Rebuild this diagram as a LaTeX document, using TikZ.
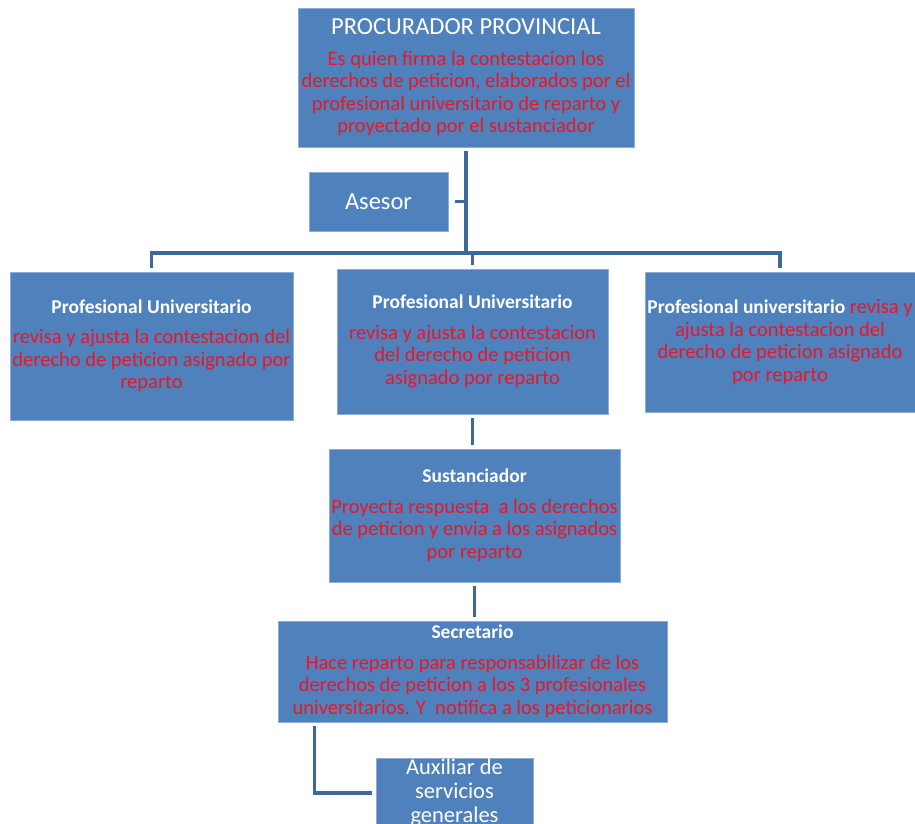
\documentclass[tikz,border=0pt]{standalone}
\usepackage{fontspec}
\setmainfont{Carlito}
\usepackage{xcolor}
\usetikzlibrary{positioning}

\definecolor{boxblue}{RGB}{79,129,189}
\definecolor{linkblue}{RGB}{62,104,154}
\definecolor{txtred}{RGB}{234,22,38}

\newcommand{\cargotitle}[1]{{\bfseries\fontsize{19.5}{22.5}\selectfont #1}}

\begin{document}
\begin{tikzpicture}[
    x=1pt, y=-1pt,
    cargo/.style={fill=boxblue, draw=boxblue!65!white, line width=0.6pt, inner sep=0pt,
        align=center, text=white, font=\fontsize{20.5}{22.5}\selectfont},
    enlace/.style={draw=linkblue, line width=3.5pt, shorten <=4pt, shorten >=4pt}
]
    \useasboundingbox (0,0) rectangle (915,824);

    \node (proc) [cargo, minimum width=336pt, minimum height=139pt] at (466,77.5)
        {{\fontsize{24.5}{26}\selectfont PROCURADOR PROVINCIAL}\\[8pt]
         \color{txtred}Es quien firma la contestacion los\\
         \color{txtred}derechos de peticion, elaborados por el\\
         \color{txtred}profesional universitario de reparto y\\
         \color{txtred}proyectado por el sustanciador};
    \node (asesor) [cargo, minimum width=139pt, minimum height=59pt, font=\fontsize{24.5}{26}\selectfont] at (378.5,201.5) {Asesor};

    \node (pu1) [cargo, minimum width=283pt, minimum height=148pt] at (151.5,346)
        {\cargotitle{Profesional Universitario}\\[8pt]
         \color{txtred}revisa y ajusta la contestacion del\\
         \color{txtred}derecho de peticion asignado por\\
         \color{txtred}reparto};
    \node (pu2) [cargo, minimum width=271pt, minimum height=145pt] at (472.5,341.5)
        {\cargotitle{Profesional Universitario}\\[8pt]
         \color{txtred}revisa y ajusta la contestacion\\
         \color{txtred}del derecho de peticion\\
         \color{txtred}asignado por reparto};
    \node (pu3) [cargo, minimum width=270pt, minimum height=140pt] at (780,342)
        {\cargotitle{Profesional universitario} \textcolor{txtred}{revisa y}\\
         \color{txtred}ajusta la contestacion del\\
         \color{txtred}derecho de peticion asignado\\
         \color{txtred}por reparto};

    \node (sust) [cargo, minimum width=291pt, minimum height=133pt] at (474.5,515.5)
        {\cargotitle{Sustanciador}\\[8pt]
         \color{txtred}Proyecta respuesta\ \ a los derechos\\
         \color{txtred}de peticion y envia a los asignados\\
         \color{txtred}por reparto};
    \node (secr) [cargo, minimum width=389pt, minimum height=101pt] at (472.5,671.5)
        {\cargotitle{Secretario}\\[8pt]
         \color{txtred}Hace reparto para responsabilizar de los\\
         \color{txtred}derechos de peticion a los 3 profesionales\\
         \color{txtred}universitarios. Y\ \ notifica a los peticionarios};
    \node (aux) [cargo, minimum width=157pt, minimum height=70pt, font=\fontsize{22.5}{24}\selectfont] at (454.5,793)
        {Auxiliar de\\servicios\\generales};

    \coordinate (bus) at (466,253);

    \draw[enlace, shorten >=0pt] (proc.south) -- (bus);
    \draw[enlace, shorten >=0pt] (asesor.east) ++(3pt,0) -- (asesor.east -| proc.south);
    \draw[enlace] (pu1.north) |- (bus) -| (pu3.north);
    \draw[enlace, shorten >=0pt] (pu2.north) |- (bus);
    \draw[enlace] (pu2.south) -- (pu2.south |- sust.north);
    \draw[enlace] (sust.south) -- (sust.south |- secr.north);
    \draw[enlace] ([xshift=37pt]secr.south west) |- (aux.west);
\end{tikzpicture}
\end{document}
